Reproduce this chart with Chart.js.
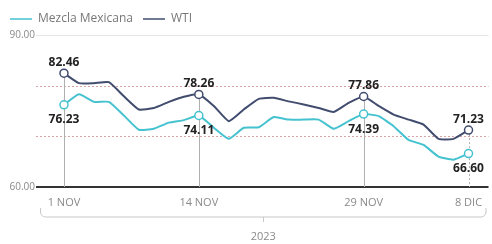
<!DOCTYPE html>
<html>
<head>
<meta charset="utf-8">
<script src="https://cdn.jsdelivr.net/npm/chart.js@4"></script>
<style>
  html, body { margin: 0; padding: 0; background: #fff; }
  #wrap { width: 492px; height: 244px; }
</style>
</head>
<body>
<div id="wrap"><canvas id="myChart"></canvas></div>
<script>
// trading days, 1 nov - 8 dic 2023
var days = ['1 NOV', '2 NOV', '3 NOV', '6 NOV', '7 NOV', '8 NOV', '9 NOV', '10 NOV', '13 NOV', '14 NOV',
  '15 NOV', '16 NOV', '17 NOV', '20 NOV', '21 NOV', '22 NOV', '23 NOV', '24 NOV', '27 NOV', '28 NOV',
  '29 NOV', '30 NOV', '1 DIC', '4 DIC', '5 DIC', '6 DIC', '7 DIC', '8 DIC'];
var wti = [82.46, 80.5, 80.5, 80.7, 77.9, 75.3, 75.6, 76.8, 77.8, 78.26,
  76.0, 73.0, 75.3, 77.4, 77.6, 76.9, 76.3, 75.6, 74.8, 76.6,
  77.86, 76.0, 74.3, 73.3, 72.3, 69.5, 69.5, 71.23];
var mezcla = [76.23, 78.3, 76.8, 76.8, 74.1, 71.3, 71.5, 72.7, 73.2, 74.11,
  71.7, 69.5, 71.7, 71.8, 73.8, 73.3, 73.3, 73.3, 71.5, 73.0,
  74.39, 74.0, 72.0, 69.3, 68.3, 66.0, 65.4, 66.60];
var marked = [0, 9, 20, 27]; // labelled days
var yearLabel = '2023';

var wtiColor = '#414c6e';
var mezclaColor = '#45c2cf';
var font = "'Open Sans', sans-serif";

function toPoints(values) {
  return values.map(function (v, i) { return { x: i, y: v }; });
}

function markRadius(ctx) {
  return marked.indexOf(ctx.dataIndex) >= 0 ? 4 : 0;
}

// grid lines, day guides, value labels and the year bracket
var overlay = {
  id: 'overlay',
  beforeDatasetsDraw: function (chart) {
    var ctx = chart.ctx, area = chart.chartArea, x = chart.scales.x, y = chart.scales.y;
    ctx.save();
    y.ticks.forEach(function (t) {
      var py = Math.round(y.getPixelForValue(t.value)) + 0.5;
      ctx.beginPath();
      if (t.value === y.min) {
        ctx.strokeStyle = '#333';
        ctx.lineWidth = 2;
        ctx.setLineDash([]);
        py = Math.round(y.getPixelForValue(t.value));
      } else if (t.value === y.max) {
        ctx.strokeStyle = '#e6e6e6';
        ctx.lineWidth = 1;
        ctx.setLineDash([]);
      } else {
        ctx.strokeStyle = '#d9a3a3';
        ctx.lineWidth = 1;
        ctx.setLineDash([2, 2]);
      }
      ctx.moveTo(area.left - 4, py);
      ctx.lineTo(area.right + 2, py);
      ctx.stroke();
    });
    marked.forEach(function (idx, k) {
      var px = Math.round(x.getPixelForValue(idx)) + 0.5;
      ctx.beginPath();
      ctx.strokeStyle = '#b0b0b0';
      ctx.lineWidth = 1;
      ctx.setLineDash(k === marked.length - 1 ? [2, 2] : []);
      ctx.moveTo(px, y.getPixelForValue(wti[idx]));
      ctx.lineTo(px, area.bottom);
      ctx.stroke();
    });
    ctx.restore();
  },
  afterDatasetsDraw: function (chart) {
    var ctx = chart.ctx, x = chart.scales.x, y = chart.scales.y;
    ctx.save();
    ctx.font = "bold 12px " + font;
    ctx.fillStyle = '#222';
    ctx.textAlign = 'center';
    ctx.textBaseline = 'middle';
    marked.forEach(function (idx) {
      var px = x.getPixelForValue(idx);
      ctx.fillText(wti[idx].toFixed(2), px, y.getPixelForValue(wti[idx]) - 11);
      ctx.fillText(mezcla[idx].toFixed(2), px, y.getPixelForValue(mezcla[idx]) + 15);
    });
    ctx.restore();
  },
  afterDraw: function (chart) {
    var ctx = chart.ctx, area = chart.chartArea;
    var top = area.bottom + 21, bottom = area.bottom + 30, r = 5;
    var l = area.left + 0.5, rt = area.right - 0.5, mid = Math.round((area.left + area.right) / 2) + 0.5;
    ctx.save();
    ctx.strokeStyle = '#c8c8c8';
    ctx.lineWidth = 1;
    ctx.beginPath();
    ctx.moveTo(l, top);
    ctx.arcTo(l, bottom, l + r, bottom, r);
    ctx.lineTo(rt - r, bottom);
    ctx.arcTo(rt, bottom, rt, top, r);
    ctx.lineTo(rt, top);
    ctx.moveTo(mid, bottom);
    ctx.lineTo(mid, bottom + 5);
    ctx.stroke();
    ctx.restore();
  }
};

var config = {
  type: 'line',
  data: {
    datasets: [
      {
        label: 'Mezcla Mexicana',
        data: toPoints(mezcla),
        borderColor: mezclaColor,
        backgroundColor: mezclaColor,
        borderWidth: 2,
        tension: 0.15,
        pointRadius: markRadius,
        pointBackgroundColor: '#fff',
        pointBorderColor: mezclaColor,
        pointBorderWidth: 1.5
      },
      {
        label: 'WTI',
        data: toPoints(wti),
        borderColor: wtiColor,
        backgroundColor: wtiColor,
        borderWidth: 2,
        tension: 0.15,
        pointRadius: markRadius,
        pointBackgroundColor: '#fff',
        pointBorderColor: wtiColor,
        pointBorderWidth: 1.5
      }
    ]
  },
  options: {
    responsive: true,
    maintainAspectRatio: false,
    animation: false,
    layout: { padding: { left: 0, right: 2, top: 3, bottom: 0 } },
    plugins: {
      legend: {
        position: 'top',
        align: 'start',
        labels: {
          usePointStyle: true,
          pointStyle: 'line',
          pointStyleWidth: 22,
          padding: 10,
          color: '#777',
          font: { family: font, size: 12 }
        }
      },
      tooltip: { enabled: false }
    },
    scales: {
      x: {
        type: 'linear',
        min: -1.6,
        max: 28.2,
        afterBuildTicks: function (scale) {
          scale.ticks = marked.map(function (v) { return { value: v }; });
        },
        afterFit: function (scale) { scale.height = 57; },
        grid: { display: false, drawTicks: false },
        border: { display: false },
        ticks: {
          autoSkip: false,
          maxRotation: 0,
          padding: 9,
          color: '#8a8a8a',
          font: { family: font, size: 11 },
          callback: function (value) { return days[value]; }
        },
        title: {
          display: true,
          text: yearLabel,
          color: '#8a8a8a',
          font: { family: font, size: 11 },
          padding: { top: 0, bottom: 1 }
        }
      },
      y: {
        min: 60,
        max: 90,
        afterFit: function (scale) { scale.width = 40; },
        grid: { display: false, drawTicks: false },
        border: { display: false },
        ticks: {
          stepSize: 10,
          padding: 5,
          color: '#8a8a8a',
          font: { family: font, size: 10 },
          callback: function (value) {
            return (value === 60 || value === 90) ? value.toFixed(2) : '';
          }
        }
      }
    }
  },
  plugins: [overlay]
};

var lineGraph = new Chart(document.getElementById('myChart'), config);
</script>
</body>
</html>
